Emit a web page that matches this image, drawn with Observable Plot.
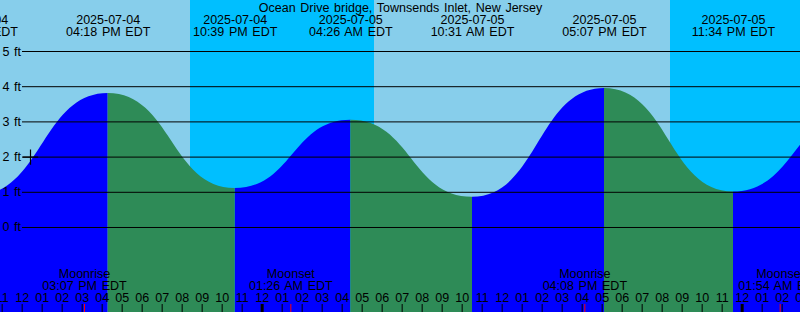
<!DOCTYPE html>
<html>
<head>
<meta charset="utf-8">
<script src="https://cdn.jsdelivr.net/npm/d3@7"></script>
<script src="https://cdn.jsdelivr.net/npm/@observablehq/plot@0.6"></script>
<style>
  html, body { margin: 0; padding: 0; background: #87CEEB; }
  #chart svg { display: block; }
</style>
</head>
<body>
<div id="chart"></div>
<script>
// ---- data ----
const title = "Ocean Drive bridge, Townsends Inlet, New Jersey";
const tideTimes = ["2025-07-04T09:42", "2025-07-04T16:18", "2025-07-04T22:39", "2025-07-05T04:26",
                   "2025-07-05T10:31", "2025-07-05T17:07", "2025-07-05T23:34", "2025-07-06T05:46"];
const tideHeights = [0.90, 3.81, 1.11, 3.05, 0.86, 3.95, 1.01, 3.30];
const moonTimes = ["2025-07-04T15:07", "2025-07-05T01:26", "2025-07-05T16:08", "2025-07-06T01:54"];
const moonKinds = ["Moonrise", "Moonset", "Moonrise", "Moonset"];
const sunTimes = ["2025-07-04T20:25", "2025-07-05T05:37", "2025-07-05T20:25"]; // sunset, sunrise, sunset
const levels = [0, 1, 2, 3, 4, 5];
const levelUnit = "ft";
const markTime = "2025-07-04T12:25";
const markHeight = 2.0;
const xStartStr = "2025-07-04T10:55";
const xEndStr = "2025-07-06T02:55";
const yMin = -2.4148, yMax = 6.4489;

// ---- helpers ----
const T = s => new Date(s + ":00Z");
const fmtDate = d3.utcFormat("%Y-%m-%d");
const fmtTime = d3.utcFormat("%I:%M %p EDT");
const fmtHour = d3.utcFormat("%I");

const xStart = T(xStartStr), xEnd = T(xEndStr);
const tides = tideTimes.map((s, i) => ({time: T(s), height: tideHeights[i]}));
const segs = [];
for (let i = 0; i < tides.length - 1; i++) {
  const rising = tides[i + 1].height > tides[i].height;
  segs.push({...tides[i], seg: i, rising});
  segs.push({...tides[i + 1], seg: i, rising});
}
const bounds = [xStart, ...sunTimes.map(T), xEnd];
const sky = bounds.slice(0, -1).map((b, i) => ({x1: b, x2: bounds[i + 1], night: i % 2 === 1}));
const moons = moonTimes.map((s, i) => ({time: T(s), kind: moonKinds[i]}));
const hours = d3.utcHour.range(xStart, d3.utcHour.offset(xEnd, 1));

const BLUE = "#0000FF", GREEN = "#2E8B57", DAY = "#87CEEB", NIGHT = "#00BFFF";
const mid = {lineAnchor: "middle"};

const chart = Plot.plot({
  width: 800,
  height: 312,
  margin: 0,
  style: "font-family: 'Liberation Sans', Arial, sans-serif; font-size: 12.5px; word-spacing: 1.2px; overflow: hidden; background: #87CEEB; color: black;",
  x: {type: "utc", domain: [xStart, xEnd], axis: null},
  y: {domain: [yMin, yMax], axis: null},
  marks: [
    Plot.rect(sky.filter(d => !d.night), {x1: "x1", x2: "x2", fill: DAY}),
    Plot.rect(sky.filter(d => d.night), {x1: "x1", x2: "x2", fill: NIGHT}),
    Plot.areaY(segs.filter(d => d.rising), {x: "time", y1: yMin, y2: "height", z: "seg", fill: BLUE, curve: "bump-x"}),
    Plot.areaY(segs.filter(d => !d.rising), {x: "time", y1: yMin, y2: "height", z: "seg", fill: GREEN, curve: "bump-x"}),
    Plot.ruleY(levels, {y: d => d, insetLeft: 22, stroke: "black", strokeWidth: 1}),
    Plot.text(levels, {y: d => d, text: d => `${d} ${levelUnit}`, frameAnchor: "left", textAnchor: "end", dx: 20.5, ...mid}),
    Plot.dot([{time: T(markTime), height: markHeight}], {x: "time", y: "height", symbol: "plus", r: 5, stroke: "black", strokeWidth: 1.2}),
    Plot.text([title], {frameAnchor: "top", text: d => d, dy: 7, ...mid}),
    Plot.text(tides, {x: "time", frameAnchor: "top", text: d => fmtDate(d.time), dy: 19.5, ...mid}),
    Plot.text(tides, {x: "time", frameAnchor: "top", text: d => fmtTime(d.time), dy: 31.7, ...mid}),
    Plot.text(moons, {x: "time", frameAnchor: "bottom", text: d => d.kind, dy: -38.5, ...mid}),
    Plot.text(moons, {x: "time", frameAnchor: "bottom", text: d => fmtTime(d.time), dy: -26.8, ...mid}),
    Plot.text(hours, {x: d => d, frameAnchor: "bottom", text: d => fmtHour(d), dy: -14.5, ...mid}),
    Plot.ruleX(hours, {x: d => d, insetTop: 304, stroke: "black", strokeWidth: 1}),
    Plot.ruleX(hours.filter(d => d.getUTCHours() === 0), {x: d => d, insetTop: 304, stroke: "black", strokeWidth: 3}),
    Plot.ruleX(moons, {x: "time", insetTop: 304, stroke: "red", strokeWidth: 1})
  ]
});
document.getElementById("chart").appendChild(chart);
</script>
</body>
</html>
